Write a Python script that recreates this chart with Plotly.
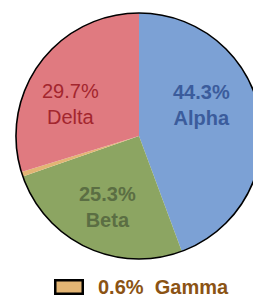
import plotly.graph_objects as go

labels = ["Alpha", "Beta", "Gamma", "Delta"]
values = [44.3, 25.3, 0.6, 29.7]
fill_colors = ["#7CA1D5", "#8CA562", "#E3B574", "#E07A80"]
text_colors = ["#3B5C9C", "#5B6E43", "#8B5314", "#A3262E"]
bold = [True, True, True, False]
# label anchor positions in pixels (centre of the two-line label)
label_px = {"Alpha": (201, 105), "Beta": (107, 207), "Delta": (70, 104)}

W, H = 262, 298
ml, mt, mb, mr = 16, 13, 39, 0
pw = W - ml - mr
ph = H - mt - mb
FONT = "Liberation Sans, Arial, sans-serif"


def px_to_paper(x, y):
    return (x - ml) / pw, (ph + mt - y) / ph


fig = go.Figure()
fig.add_trace(go.Pie(
    labels=labels, values=values, sort=False, direction="clockwise", rotation=0,
    marker=dict(colors=fill_colors, line=dict(width=0)),
    textinfo="none", showlegend=False, hoverinfo="label+percent",
))
# outer outline ring
fig.add_trace(go.Pie(
    values=[1], labels=["outline"], sort=False,
    marker=dict(colors=["rgba(0,0,0,0)"], line=dict(color="black", width=1.6)),
    textinfo="none", hoverinfo="skip", showlegend=False,
))

for lab, v, c, b in zip(labels, values, text_colors, bold):
    if lab not in label_px:
        continue
    t = f"{v:.1f}%<br>{lab}"
    if b:
        t = f"<b>{t}</b>"
    x, y = px_to_paper(*label_px[lab])
    fig.add_annotation(xref="paper", yref="paper", x=x, y=y, text=t, showarrow=False,
                       xanchor="center", yanchor="middle", align="center",
                       font=dict(family=FONT, size=20, color=c))

lx, ly = px_to_paper(69, 286.5)
tx, _ = px_to_paper(96, 286.5)
fig.add_annotation(
    xref="paper", yref="paper", x=lx, y=ly,
    text="", showarrow=False, width=25, height=11,
    bgcolor=fill_colors[2], bordercolor="black", borderwidth=2.5, borderpad=0,
    xanchor="center", yanchor="middle",
)
fig.add_annotation(
    xref="paper", yref="paper", x=tx, y=ly,
    text=f"<b>{values[2]:.1f}%  {labels[2]}</b>", showarrow=False, xanchor="left", yanchor="middle",
    font=dict(family=FONT, size=20, color=text_colors[2]),
)

fig.update_layout(
    width=W, height=H, margin=dict(l=ml, r=mr, t=mt, b=mb, pad=0),
    paper_bgcolor="white", plot_bgcolor="white", showlegend=False,
)

fig.write_html(
    "out.html",
    config={"displayModeBar": False},
    post_script="document.documentElement.style.overflow='hidden';document.body.style.overflow='hidden';document.body.style.margin='0';",
)
